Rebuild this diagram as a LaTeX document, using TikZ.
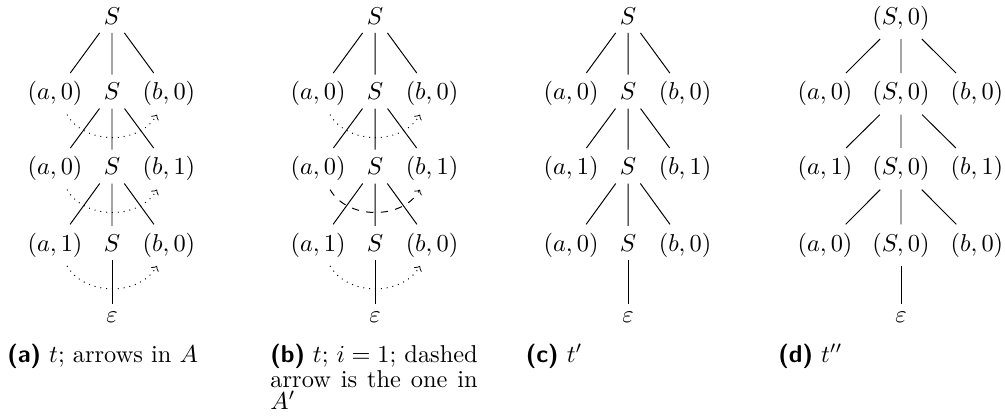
\documentclass[tikz,border=0pt]{standalone}
\usepackage{amsmath,amssymb}
\usepackage{tikz}

\begin{document}
\begin{tikzpicture}
\tikzset{
  lab/.style  ={anchor=base},
  capbox/.style={anchor=base west, inner sep=0pt, text width=85pt, align=justify,
                font=\fontsize{10}{9}\selectfont},
  aDot/.style ={->,dotted},
  aDash/.style={->,dashed}
}
\useasboundingbox (0,0) rectangle (14.482,-6.038);
% (a) t with the arrows of A
\node (aS0)[lab] at (1.614,-0.35){$S$};
\node (aA1)[lab] at (0.793,-1.44){$(a,0)$};
\node (aS1)[lab] at (1.614,-1.44){$S$};
\node (aB1)[lab] at (2.435,-1.44){$(b,0)$};
\node (aA2)[lab] at (0.793,-2.52){$(a,0)$};
\node (aS2)[lab] at (1.614,-2.52){$S$};
\node (aB2)[lab] at (2.435,-2.52){$(b,1)$};
\node (aA3)[lab] at (0.793,-3.62){$(a,1)$};
\node (aS3)[lab] at (1.614,-3.62){$S$};
\node (aB3)[lab] at (2.435,-3.62){$(b,0)$};
\node (aE)[lab] at (1.614,-4.65){$\varepsilon$};
\draw (aS0)--(aA1) (aS0)--(aS1) (aS0)--(aB1);
\draw (aS1)--(aA2) (aS1)--(aS2) (aS1)--(aB2);
\draw (aS2)--(aA3) (aS2)--(aS3) (aS2)--(aB3);
\draw (aS3)--(aE);
\draw[aDot](aA1) to[out=-60,in=-120] (aB1);
\draw[aDot](aA2) to[out=-60,in=-120] (aB2);
\draw[aDot](aA3) to[out=-60,in=-120] (aB3);
\node (capA)[capbox] at (0.10,-5.22){\textsf{\bfseries (a)} $t$; arrows in $A$};
% (b) t, i=1
\node (bS0)[lab] at (5.404,-0.35){$S$};
\node (bA1)[lab] at (4.583,-1.44){$(a,0)$};
\node (bS1)[lab] at (5.404,-1.44){$S$};
\node (bB1)[lab] at (6.225,-1.44){$(b,0)$};
\node (bA2)[lab] at (4.583,-2.52){$(a,0)$};
\node (bS2)[lab] at (5.404,-2.52){$S$};
\node (bB2)[lab] at (6.225,-2.52){$(b,1)$};
\node (bA3)[lab] at (4.583,-3.62){$(a,1)$};
\node (bS3)[lab] at (5.404,-3.62){$S$};
\node (bB3)[lab] at (6.225,-3.62){$(b,0)$};
\node (bE)[lab] at (5.404,-4.65){$\varepsilon$};
\draw (bS0)--(bA1) (bS0)--(bS1) (bS0)--(bB1);
\draw (bS1)--(bA2) (bS1)--(bS2) (bS1)--(bB2);
\draw (bS2)--(bA3) (bS2)--(bS3) (bS2)--(bB3);
\draw (bS3)--(bE);
\draw[aDot](bA1) to[out=-60,in=-120] (bB1);
\draw[aDash](bA2) to[out=-60,in=-120] (bB2);
\draw[aDot](bA3) to[out=-60,in=-120] (bB3);
\node (capB)[capbox] at (3.89,-5.22){\textsf{\bfseries (b)} $t$; $i=1$; dashed\linebreak
  arrow is the one in\linebreak $A'$};
% (c) t'
\node (cS0)[lab] at (9.05,-0.35){$S$};
\node (cA1)[lab] at (8.229,-1.44){$(a,0)$};
\node (cS1)[lab] at (9.05,-1.44){$S$};
\node (cB1)[lab] at (9.871,-1.44){$(b,0)$};
\node (cA2)[lab] at (8.229,-2.52){$(a,1)$};
\node (cS2)[lab] at (9.05,-2.52){$S$};
\node (cB2)[lab] at (9.871,-2.52){$(b,1)$};
\node (cA3)[lab] at (8.229,-3.62){$(a,0)$};
\node (cS3)[lab] at (9.05,-3.62){$S$};
\node (cB3)[lab] at (9.871,-3.62){$(b,0)$};
\node (cE)[lab] at (9.05,-4.65){$\varepsilon$};
\draw (cS0)--(cA1) (cS0)--(cS1) (cS0)--(cB1);
\draw (cS1)--(cA2) (cS1)--(cS2) (cS1)--(cB2);
\draw (cS2)--(cA3) (cS2)--(cS3) (cS2)--(cB3);
\draw (cS3)--(cE);
\node (capC)[capbox] at (7.57,-5.22){\textsf{\bfseries (c)} $t'$};
% (d) t''
\node (dS0)[lab] at (12.983,-0.35){$(S,0)$};
\node (dA1)[lab] at (11.888,-1.44){$(a,0)$};
\node (dS1)[lab] at (12.983,-1.44){$(S,0)$};
\node (dB1)[lab] at (14.078,-1.44){$(b,0)$};
\node (dA2)[lab] at (11.888,-2.52){$(a,1)$};
\node (dS2)[lab] at (12.983,-2.52){$(S,0)$};
\node (dB2)[lab] at (14.078,-2.52){$(b,1)$};
\node (dA3)[lab] at (11.888,-3.62){$(a,0)$};
\node (dS3)[lab] at (12.983,-3.62){$(S,0)$};
\node (dB3)[lab] at (14.078,-3.62){$(b,0)$};
\node (dE)[lab] at (12.983,-4.65){$\varepsilon$};
\draw (dS0)--(dA1) (dS0)--(dS1) (dS0)--(dB1);
\draw (dS1)--(dA2) (dS1)--(dS2) (dS1)--(dB2);
\draw (dS2)--(dA3) (dS2)--(dS3) (dS2)--(dB3);
\draw (dS3)--(dE);
\node (capD)[capbox] at (11.21,-5.22){\textsf{\bfseries (d)} $t''$};
\end{tikzpicture}
\end{document}
